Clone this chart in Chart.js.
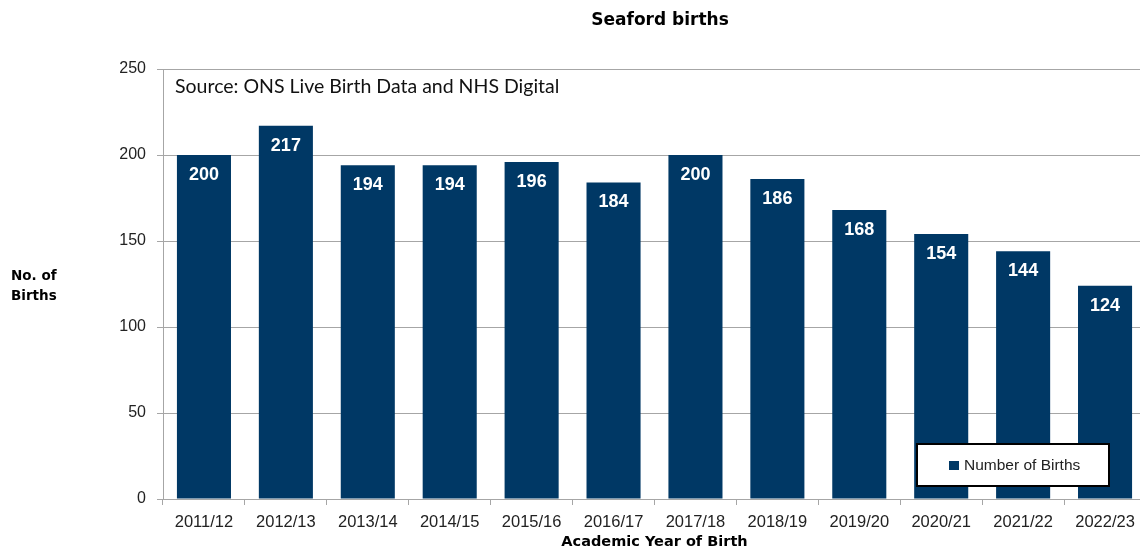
<!DOCTYPE html>
<html>
<head>
<meta charset="utf-8">
<script src="https://cdn.jsdelivr.net/npm/chart.js@4"></script>
<style>
  html, body { margin:0; padding:0; background:#fff; overflow:hidden; }
  #wrap { width:1146px; height:551px; position:relative; }
</style>
</head>
<body>
<div id="wrap"><canvas id="birthsChart"></canvas></div>
<script>
  /* ── Data ── */
  const YEARS = ['2011/12', '2012/13', '2013/14', '2014/15', '2015/16', '2016/17',
                 '2017/18', '2018/19', '2019/20', '2020/21', '2021/22', '2022/23'];
  const BIRTHS = [200, 217, 194, 194, 196, 184, 200, 186, 168, 154, 144, 124];
  const Y_TICKS = [0, 50, 100, 150, 200, 250];

  const BAR = '#003865';
  const GRID = '#a6a6a6';
  const TXT = '#222';
  const SANS = '"Liberation Sans", Arial, sans-serif';
  const WIDE = '"DejaVu Sans", Verdana, sans-serif';

  // overlay bits: title, y label, source note, legend box, bar values
  const overlay = {
    id: 'overlay',
    afterDatasetsDraw(chart) {
      const { ctx, chartArea } = chart;
      ctx.save();

      // values inside the bars
      const meta = chart.getDatasetMeta(0);
      ctx.fillStyle = '#fff';
      ctx.font = 'bold 18px ' + SANS;
      ctx.textAlign = 'center';
      ctx.textBaseline = 'middle';
      meta.data.forEach((bar, i) => {
        ctx.fillText(BIRTHS[i], bar.x, bar.y + 20);
      });

      // title
      ctx.fillStyle = '#000';
      ctx.font = 'bold 17px ' + WIDE;
      ctx.fillText('Seaford births', 660, 21);

      // y axis label, horizontal
      ctx.textAlign = 'left';
      ctx.font = 'bold 13.5px ' + WIDE;
      ctx.fillText('No. of', 11, 276);
      ctx.fillText('Births', 11, 296);

      // source note
      ctx.fillStyle = '#111';
      ctx.font = '19.5px Lato, "Open Sans", sans-serif';
      ctx.fillText('Source: ONS Live Birth Data and NHS Digital', chartArea.left + 12, 87);

      // legend box
      const lx = 917, ly = 444, lw = 192, lh = 42;
      ctx.fillStyle = '#fff';
      ctx.fillRect(lx, ly, lw, lh);
      ctx.strokeStyle = '#000';
      ctx.lineWidth = 2;
      ctx.strokeRect(lx, ly, lw, lh);
      ctx.fillStyle = BAR;
      ctx.fillRect(lx + 32, ly + 17, 10, 9);
      ctx.fillStyle = '#222';
      ctx.font = '15.5px ' + SANS;
      ctx.fillText(chart.data.datasets[0].label, lx + 47, ly + 22);

      ctx.restore();
    }
  };

  window.addEventListener('DOMContentLoaded', () => {
    const ctx = document.getElementById('birthsChart').getContext('2d');
    new Chart(ctx, {
      type: 'bar',
      data: {
        labels: YEARS,
        datasets: [{
          label: 'Number of Births',
          data: BIRTHS,
          backgroundColor: BAR,
          borderWidth: 0,
          barPercentage: 0.66,
          categoryPercentage: 1.0
        }]
      },
      options: {
        responsive: true,
        maintainAspectRatio: false,
        animation: false,
        layout: { padding: { top: 69, left: 0, right: 0, bottom: 0 } },
        plugins: {
          legend: { display: false },
          tooltip: { enabled: false }
        },
        scales: {
          x: {
            grid: {
              offset: true,
              drawOnChartArea: false,
              drawTicks: true,
              tickLength: 6,
              color: GRID
            },
            border: { color: GRID, width: 1 },
            ticks: {
              color: TXT,
              padding: 8,
              maxRotation: 0,
              font: { size: 16.5, family: SANS }
            },
            title: {
              display: true,
              text: 'Academic Year of Birth',
              color: '#000',
              padding: { top: 0, bottom: 0 },
              font: { size: 14.5, weight: 'bold', family: WIDE }
            },
            afterFit(scale) { scale.height = 52; }
          },
          y: {
            min: 0,
            max: 250,
            afterBuildTicks(scale) { scale.ticks = Y_TICKS.map(v => ({ value: v })); },
            grid: { color: GRID, tickLength: 6 },
            border: { color: GRID, width: 1 },
            ticks: {
              color: TXT,
              padding: 11,
              font: { size: 16, family: SANS }
            },
            afterFit(scale) { scale.width = 163; }
          }
        }
      },
      plugins: [overlay]
    });
  });
</script>
</body>
</html>
